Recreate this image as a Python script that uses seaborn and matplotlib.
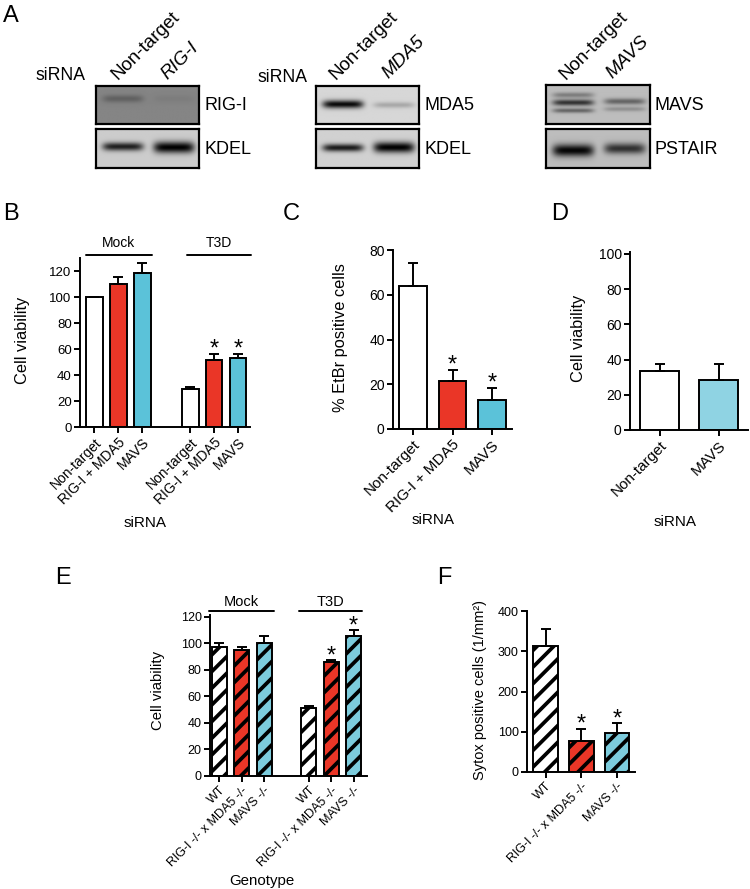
import numpy as np
import pandas as pd
import matplotlib.pyplot as plt
import matplotlib.transforms as mtransforms
import seaborn as sns

# Data
RED = "#ea3627"
CYAN = "#5bc2d9"
LIGHTCYAN = "#8fd3e3"
HATCHCYAN = "#7ccbdc"

# panel B: cell viability, siRNA knockdown (Mock / T3D)
b_labels = ["Non-target", "RIG-I + MDA5", "MAVS", "Non-target", "RIG-I + MDA5", "MAVS"]
b_pos = [0, 1, 2, 4, 5, 6]
b_vals = [100, 110, 118.5, 29, 51.5, 53]
b_err = [0, 5.5, 8, 1.5, 5, 3.5]
b_star = [False, False, False, False, True, True]
b_colors = ["white", RED, CYAN, "white", RED, CYAN]

# panel C: % EtBr positive cells
c_labels = ["Non-target", "RIG-I + MDA5", "MAVS"]
c_pos = [0, 1, 2]
c_vals = [64, 21.5, 13]
c_err = [10, 5, 5.5]
c_star = [False, True, True]
c_colors = ["white", RED, CYAN]

# panel D: cell viability
d_labels = ["Non-target", "MAVS"]
d_pos = [0, 1]
d_vals = [33.5, 28.5]
d_err = [4, 9]
d_star = [False, False]
d_colors = ["white", LIGHTCYAN]

# panel E: cell viability by genotype
e_labels = ["WT", "RIG-I -/- x MDA5 -/-", "MAVS -/-", "WT", "RIG-I -/- x MDA5 -/-", "MAVS -/-"]
e_pos = [0, 1, 2, 4, 5, 6]
e_vals = [97, 95, 100, 51.5, 86, 106]
e_err = [3, 2, 5.5, 1, 1.5, 4]
e_star = [False, False, False, False, True, True]
e_colors = ["white", RED, HATCHCYAN, "white", RED, HATCHCYAN]

# panel F: sytox positive cells
f_labels = ["WT", "RIG-I -/- x MDA5 -/-", "MAVS -/-"]
f_pos = [0, 1, 2]
f_vals = [313, 77, 96]
f_err = [43, 31, 25]
f_star = [False, True, True]
f_colors = ["white", RED, HATCHCYAN]

# western blots: (lane, band position, darkness, thickness)
blot_bg = {"RIG-I": 0.52, "KDEL1": 0.80, "MDA5": 0.84, "KDEL2": 0.82, "MAVS": 0.74, "PSTAIR": 0.74}
blot_bands = {
    "RIG-I": [(0, 0.33, 0.14, 0.10), (1, 0.33, 0.03, 0.10)],
    "KDEL1": [(0, 0.45, 0.68, 0.11), (1, 0.47, 0.80, 0.15)],
    "MDA5": [(0, 0.48, 0.80, 0.11), (1, 0.50, 0.18, 0.08)],
    "KDEL2": [(0, 0.48, 0.72, 0.10), (1, 0.47, 0.82, 0.14)],
    "MAVS": [(0, 0.25, 0.25, 0.07), (0, 0.45, 0.55, 0.08), (0, 0.66, 0.35, 0.06),
             (1, 0.42, 0.35, 0.08), (1, 0.62, 0.18, 0.06)],
    "PSTAIR": [(0, 0.55, 0.72, 0.16), (1, 0.50, 0.55, 0.14)],
}

sns.set_style("ticks", {"axes.edgecolor": "black", "xtick.color": "black",
                        "ytick.color": "black", "text.color": "black",
                        "axes.labelcolor": "black"})
plt.rcParams["font.family"] = ["Liberation Sans", "DejaVu Sans"]
plt.rcParams["hatch.linewidth"] = 2.7
plt.rcParams["hatch.color"] = "black"

W, H = 750, 889
fig = plt.figure(figsize=(7.5, 8.89), dpi=100)


def rect(x0, y0, x1, y1):
    return [x0 / W, 1 - y1 / H, (x1 - x0) / W, (y1 - y0) / H]


def ftext(x, y, s, size, **kw):
    fig.text(x / W, 1 - y / H, s, fontsize=size, **kw)


def blot(box, key):
    ax = fig.add_axes(rect(*box))
    h, w = 40, 104
    yy = np.linspace(0, 1, h)[:, None]
    xx = np.linspace(0, 1, w)[None, :]
    img = np.full((h, w), blot_bg[key])
    for lane, yc, depth, thick in blot_bands[key]:
        xc = 0.26 + 0.5 * lane
        img = img - depth * np.exp(-((xx - xc) / 0.2) ** 6) * np.exp(-((yy - yc) / thick) ** 2)
    ax.imshow(np.clip(img, 0, 1), cmap="gray", vmin=0, vmax=1, aspect="auto",
              interpolation="bilinear")
    ax.set_xticks([])
    ax.set_yticks([])
    for s in ax.spines.values():
        s.set_linewidth(1.6)


def bar_panel(box, pos, vals, errs, colors, labels, stars, width, xlim, ylim, yticks,
              hatch=None, label_size=10, ytick_size=10):
    ax = fig.add_axes(rect(*box))
    df = pd.DataFrame({"pos": pos, "val": vals})
    sns.barplot(data=df, x="pos", y="val", native_scale=True, width=width, color="white",
                edgecolor="black", linewidth=1.4, errorbar=None, ax=ax)
    for p, c in zip(ax.patches, colors):
        p.set_facecolor(c)
        if hatch:
            p.set_hatch(hatch)
    ax.errorbar(pos, vals, yerr=[np.zeros(len(errs)), errs], fmt="none", ecolor="black",
                elinewidth=1.4, capsize=3.5, capthick=1.4, zorder=1)
    for x, v, e, s in zip(pos, vals, errs, stars):
        if s:
            ax.annotate("*", (x, v + e), xytext=(0, -1.5), textcoords="offset points",
                        ha="center", va="baseline", fontsize=17)
    sns.despine(ax=ax)
    ax.set_xlim(*xlim)
    ax.set_ylim(*ylim)
    ax.set_yticks(yticks)
    ax.set_xticks(pos)
    ax.set_xticklabels(labels, rotation=45, ha="right", rotation_mode="anchor")
    ax.tick_params(axis="both", width=1.4, length=4, pad=2)
    ax.tick_params(axis="x", labelsize=label_size)
    ax.tick_params(axis="y", labelsize=ytick_size)
    ax.set_xlabel("")
    ax.set_ylabel("")
    for s in ax.spines.values():
        s.set_linewidth(1.4)
    return ax


def group_lines(ax, groups, y_line, y_text, size):
    trans = mtransforms.blended_transform_factory(ax.transData, ax.transAxes)
    for name, x0, x1 in groups:
        ax.plot([x0, x1], [y_line, y_line], color="black", lw=1.4, transform=trans,
                clip_on=False)
        ax.text((x0 + x1) / 2, y_text, name, transform=trans, ha="center", va="center",
                fontsize=size)


# ---- panel A: blots ----
ftext(3, 16, "A", 17, va="center")
blot((96, 86, 199, 124), "RIG-I")
blot((96, 129, 199, 168), "KDEL1")
blot((316, 86, 419, 124), "MDA5")
blot((316, 129, 419, 168), "KDEL2")
blot((546, 85, 650, 124), "MAVS")
blot((546, 129, 650, 168), "PSTAIR")

blot_txt = dict(va="center", ha="left")
ftext(35, 76, "siRNA", 12.7, **blot_txt)
ftext(258, 78, "siRNA", 12.7, **blot_txt)
ftext(204, 106, "RIG-I", 13, **blot_txt)
ftext(204, 149, "KDEL", 13, **blot_txt)
ftext(424, 106, "MDA5", 13, **blot_txt)
ftext(424, 149, "KDEL", 13, **blot_txt)
ftext(655, 105, "MAVS", 13, **blot_txt)
ftext(655, 149, "PSTAIR", 13, **blot_txt)

head = dict(rotation=45, ha="left", va="baseline", rotation_mode="anchor")
ftext(118, 80, "Non-target", 13.5, **head)
ftext(167, 80, "RIG-I", 13.5, style="italic", **head)
ftext(336, 80, "Non-target", 13.5, **head)
ftext(388, 79, "MDA5", 13.5, style="italic", **head)
ftext(566, 80, "Non-target", 13.5, **head)
ftext(612, 79, "MAVS", 13.5, style="italic", **head)

# ---- panel B ----
ftext(3, 214, "B", 17, va="center")
axb = bar_panel((80, 258, 250, 427), b_pos, b_vals, b_err, b_colors, b_labels, b_star,
                0.7, (-0.6, 6.5), (0, 130), range(0, 121, 20), label_size=10, ytick_size=9.5)
group_lines(axb, [("Mock", -0.35, 2.4), ("T3D", 3.85, 6.55)], 1.018, 1.089, 10)
ftext(23, 340, "Cell viability", 11.8, rotation=90, ha="center", va="center")
ftext(145, 523, "siRNA", 11, ha="center", va="center")

# ---- panel C ----
ftext(283, 214, "C", 17, va="center")
bar_panel((393, 250, 512, 429), c_pos, c_vals, c_err, c_colors, c_labels, c_star,
          0.7, (-0.5, 2.5), (0, 80), range(0, 81, 20), label_size=11, ytick_size=10)
ftext(340, 338, "% EtBr positive cells", 11.8, rotation=90, ha="center", va="center")
ftext(433, 520, "siRNA", 11, ha="center", va="center")

# ---- panel D ----
ftext(551, 214, "D", 17, va="center")
bar_panel((630, 252, 748, 430), d_pos, d_vals, d_err, d_colors, d_labels, d_star,
          0.66, (-0.5, 1.5), (0, 101), range(0, 101, 20), label_size=11, ytick_size=10)
ftext(578, 338, "Cell viability", 11.8, rotation=90, ha="center", va="center")
ftext(675, 522, "siRNA", 11, ha="center", va="center")

# ---- panel E ----
ftext(55, 578, "E", 17, va="center")
axe = bar_panel((210, 615, 367, 776), e_pos, e_vals, e_err, e_colors, e_labels, e_star,
                0.67, (-0.42, 6.6), (0, 121.5), range(0, 121, 20), hatch="//",
                label_size=9, ytick_size=9)
group_lines(axe, [("Mock", -0.47, 2.43), ("T3D", 3.55, 6.36)], 1.025, 1.081, 10.5)
ftext(158, 690, "Cell viability", 10.7, rotation=90, ha="center", va="center")
ftext(262, 881, "Genotype", 10.8, ha="center", va="center")

# ---- panel F ----
ftext(437, 578, "F", 17, va="center")
bar_panel((527, 611, 635, 772), f_pos, f_vals, f_err, f_colors, f_labels, f_star,
          0.68, (-0.52, 2.5), (0, 400), range(0, 401, 100), hatch="//",
          label_size=9, ytick_size=9)
ftext(480, 690, "Sytox positive cells (1/mm²)", 10.5, rotation=90, ha="center",
      va="center")

plt.savefig("out.png", dpi=100)
